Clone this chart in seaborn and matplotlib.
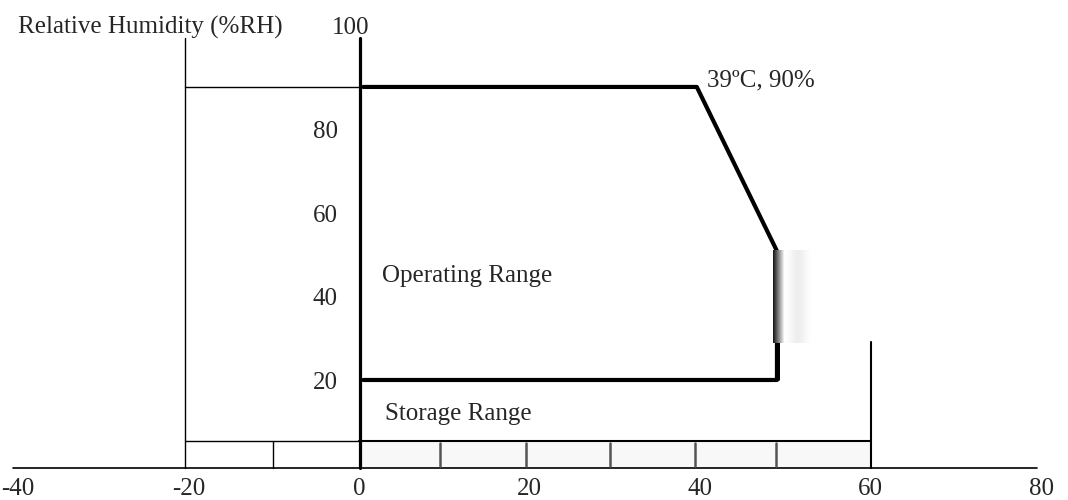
import matplotlib
matplotlib.use('Agg')
import matplotlib.pyplot as plt
import numpy as np
import seaborn as sns

# Operating range outline (temperature in C, humidity in %RH)
op_temp = [0.5, 39.6, 49, 49, 0.5]
op_rh = [90, 90, 50.8, 20, 20]

# Storage range band and the small marks inside it
storage_temp = [-20.4, 60]
storage_rh = 5.4
storage_marks = [9.5, 19.6, 29.4, 39.4, 48.9]
cold_mark = -10.1

# Tick labels
x_labels = [-40, -20, 0, 20, 40, 60, 80]
y_labels = [20, 40, 60, 80]

sns.set_style('white')
plt.rcParams['font.family'] = ['Liberation Serif', 'DejaVu Serif']

fig = plt.figure(figsize=(10.68, 5), dpi=100)
ax = fig.add_axes([0, 0, 1, 1])
ax.set_xlim(-42.09, 83.12)
ax.set_ylim(-8.67, 110.77)
ax.axis('off')

base = -1.0
# horizontal axis
ax.plot([-40.6, 79.5], [base, base], color='black', lw=1.2)
# left frame at -20
ax.plot([-20.4, -20.4], [base, 101.7], color='black', lw=1.0)
ax.plot([-20.4, 0], [90, 90], color='black', lw=1.0)
# thick 0 axis
ax.plot([0.1, 0.1], [base, 101.7], color='black', lw=2.3)
# storage band
ax.fill_between([0.1, 60], base, storage_rh, color='#f8f8f8', lw=0)
ax.plot([storage_temp[0], 0], [storage_rh, storage_rh], color='black', lw=1.0)
ax.plot([0, storage_temp[1]], [storage_rh, storage_rh], color='black', lw=1.5)
ax.plot([cold_mark, cold_mark], [base, storage_rh], color='black', lw=1.0)
for m in storage_marks:
    ax.plot([m, m], [-0.5, storage_rh - 0.4], color='#555555', lw=1.8)
ax.plot([60, 60], [base, 29.1], color='black', lw=1.5)

# operating range outline
sns.lineplot(x=op_temp, y=op_rh, sort=False, estimator=None, color='black',
             lw=3, ax=ax)
ax.plot([49, 49], [20, 30], color='black', lw=3.6, solid_capstyle='butt')

# faded smudge over the right edge
cols = np.arange(47)
ramp = np.clip(0.1 + 0.9 * cols / 11.0, 0, 1)
bump = 1 - 0.07 * np.exp(-((cols - 25) / 8.0) ** 2)
row = np.minimum(ramp, bump)
grad = np.tile(row, (20, 1))
ax.imshow(grad, cmap='gray', vmin=0, vmax=1, extent=[48.5, 54, 28.8, 50.8],
          aspect='auto', interpolation='bilinear', zorder=5)
ax.set_xlim(-42.09, 83.12)
ax.set_ylim(-8.67, 110.77)

fs = 18
ax.text(-40.0, 102.7, 'Relative Humidity (%RH)', fontsize=fs, ha='left', va='baseline')
ax.text(-1.0, 102.7, '100', fontsize=fs, ha='center', va='baseline')
for v in y_labels:
    ax.text(-2.5, v - 2.2, str(v), fontsize=fs, ha='right', va='baseline')
for v in x_labels:
    ax.text(v, -7.5, str(v), fontsize=fs, ha='center', va='baseline')
ax.text(40.8, 90.0, '39ºC, 90%', fontsize=fs, ha='left', va='baseline')
ax.text(2.7, 43.4, 'Operating Range', fontsize=fs, ha='left', va='baseline')
ax.text(3.0, 10.4, 'Storage Range', fontsize=fs, ha='left', va='baseline')

fig.savefig('out.png', dpi=100)
